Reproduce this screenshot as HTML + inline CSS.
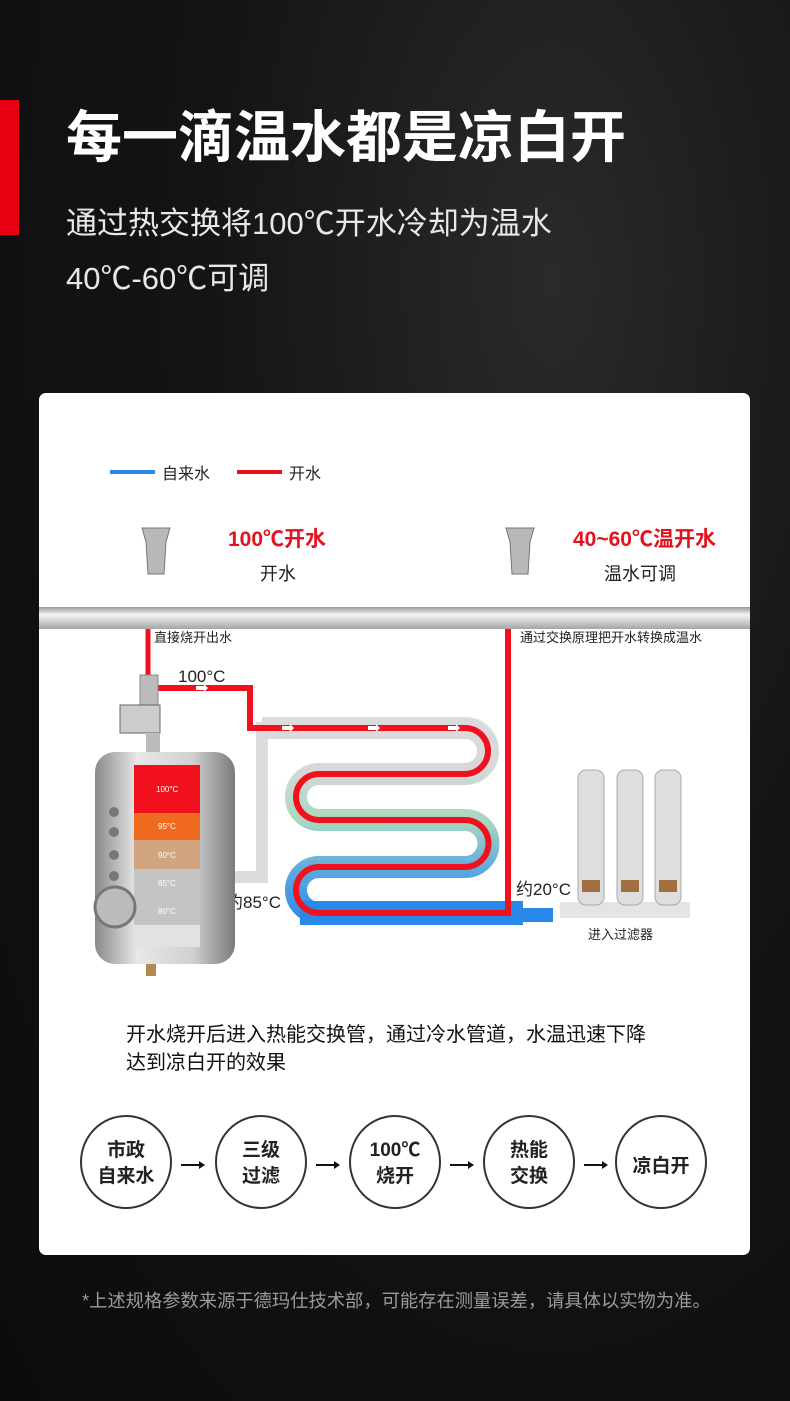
<!DOCTYPE html>
<html><head><meta charset="utf-8"><style>
*{margin:0;padding:0;box-sizing:border-box}
body{width:790px;height:1401px;overflow:hidden;background:radial-gradient(ellipse at 70% 20%,#2a2a2a 0%,#141414 45%,#0c0c0c 100%);font-family:"Liberation Sans","Noto Sans CJK SC",sans-serif;position:relative;color:#fff}
.t{position:absolute;white-space:nowrap}
</style></head><body>
<div style="position:absolute;left:0;top:100px;width:19px;height:135px;background:#e60012"></div>
<div class="t" style="left:66px;top:93px;font-size:56px;font-weight:bold">每一滴温水都是凉白开</div>
<div class="t" style="left:66px;top:198px;font-size:31px;color:#e8e8e8">通过热交换将100℃开水冷却为温水</div>
<div class="t" style="left:66px;top:253px;font-size:31px;color:#e8e8e8">40℃-60℃可调</div>
<div style="position:absolute;left:39px;top:393px;width:711px;height:862px;background:#fff;border-radius:7px"></div>
<svg style="position:absolute;left:0;top:0" width="790" height="1401" font-family="Liberation Sans,Noto Sans CJK SC,sans-serif">
<defs>
<linearGradient id="pipe" x1="0" y1="0" x2="0" y2="1"><stop offset="0" stop-color="#9a9a9a"/><stop offset=".35" stop-color="#f4f4f4"/><stop offset="1" stop-color="#a5a5a5"/></linearGradient>
<linearGradient id="vb" x1="0" y1="0" x2="0" y2="1"><stop offset="0" stop-color="#3a7ae0"/><stop offset=".5" stop-color="#7a4aa0"/><stop offset="1" stop-color="#e8102a"/></linearGradient>
<linearGradient id="tank" x1="0" y1="0" x2="1" y2="0"><stop offset="0" stop-color="#8a8a8a"/><stop offset=".3" stop-color="#e8e8e8"/><stop offset=".7" stop-color="#d0d0d0"/><stop offset="1" stop-color="#7a7a7a"/></linearGradient>
<linearGradient id="serp" gradientUnits="userSpaceOnUse" x1="0" y1="715" x2="0" y2="925"><stop offset="0" stop-color="#dcdcdc"/><stop offset=".25" stop-color="#d8d8d8"/><stop offset=".5" stop-color="#a8d8c0"/><stop offset=".75" stop-color="#5aa8e0"/><stop offset="1" stop-color="#2a88e8"/></linearGradient>
</defs>
<line x1="110" y1="472" x2="155" y2="472" stroke="#2a8ae8" stroke-width="4"/>
<text x="162" y="479" font-size="16" fill="#222">自来水</text>
<line x1="237" y1="472" x2="282" y2="472" stroke="#e8101e" stroke-width="4"/>
<text x="289" y="479" font-size="16" fill="#222">开水</text>
<path d="M142 528 h28 l-4 14 l-2 32 h-16 l-2 -32z" fill="#b8b8b8" stroke="#777"/>
<path d="M506 528 h28 l-4 14 l-2 32 h-16 l-2 -32z" fill="#b8b8b8" stroke="#777"/>
<text x="228" y="546" font-size="21" font-weight="bold" fill="#e8101e">100℃开水</text>
<text x="260" y="580" font-size="18" fill="#222">开水</text>
<text x="573" y="546" font-size="21" font-weight="bold" fill="#e8101e">40~60℃温开水</text>
<text x="604" y="580" font-size="18" fill="#222">温水可调</text>
<rect x="39" y="607" width="711" height="22" fill="url(#pipe)"/>
<path d="M232 877 H262 V728 H300" fill="none" stroke="#dcdcdc" stroke-width="12"/>
<path d="M262 728 H465 A23 23 0 0 1 465 774 H319 A23 23 0 0 0 319 820 H465 A23.5 23.5 0 0 1 465 867 H319 A23 23 0 0 0 319 913 H508" fill="none" stroke="url(#serp)" stroke-width="22"/>
<path d="M300 913 H523" stroke="#2a88e8" stroke-width="24"/>
<path d="M520 915 H553" stroke="#2a88e8" stroke-width="14"/>
<path d="M148 629 V700" stroke="#f0101e" stroke-width="5"/>
<path d="M155 688 H250 V728 H465 A23 23 0 0 1 465 774 H319 A23 23 0 0 0 319 820 H465 A23.5 23.5 0 0 1 465 867 H319 A23 23 0 0 0 319 913 H508 V629" fill="none" stroke="#f0101e" stroke-width="6"/>
<path d="M512 629 V905" stroke="url(#vb)" stroke-width="4"/>
<g fill="#fff"><path d="M196 686 h8 v-2 l4 4 l-4 4 v-2 h-8z"/><path d="M282 726 h8 v-2 l4 4 l-4 4 v-2 h-8z"/><path d="M368 726 h8 v-2 l4 4 l-4 4 v-2 h-8z"/><path d="M448 726 h8 v-2 l4 4 l-4 4 v-2 h-8z"/></g>
<text x="154" y="642" font-size="13" fill="#222">直接烧开出水</text>
<text x="520" y="642" font-size="13" fill="#222">通过交换原理把开水转换成温水</text>
<text x="178" y="682" font-size="17" fill="#222">100°C</text>
<text x="226" y="908" font-size="17" fill="#222">约85°C</text>
<text x="516" y="895" font-size="17" fill="#222">约20°C</text>
<text x="588" y="939" font-size="13" fill="#222">进入过滤器</text>
<rect x="140" y="675" width="18" height="30" fill="#bbb" stroke="#888"/>
<rect x="120" y="705" width="40" height="28" fill="#ccc" stroke="#666"/>
<rect x="146" y="733" width="14" height="20" fill="#bbb"/>
<rect x="208" y="850" width="22" height="38" fill="#ccc" stroke="#666"/>
<rect x="95" y="752" width="140" height="212" rx="20" fill="url(#tank)"/>
<rect x="134" y="765" width="66" height="48" fill="#f0101e"/>
<rect x="134" y="813" width="66" height="27" fill="#f06a20"/>
<rect x="134" y="840" width="66" height="29" fill="#d0a580"/>
<rect x="134" y="869" width="66" height="56" fill="#c4c4c4"/>
<rect x="134" y="925" width="66" height="22" fill="#e2e2e2"/>
<g font-size="8" fill="#fff"><text x="156" y="792">100°C</text><text x="158" y="829">95°C</text><text x="158" y="858">90°C</text><text x="158" y="886">85°C</text><text x="158" y="914">80°C</text></g>
<circle cx="115" cy="907" r="20" fill="#bbb" stroke="#777" stroke-width="3"/>
<g fill="#777"><circle cx="114" cy="812" r="5"/><circle cx="114" cy="832" r="5"/><circle cx="114" cy="855" r="5"/><circle cx="114" cy="876" r="5"/></g>
<rect x="146" y="964" width="10" height="12" fill="#b08a50"/>
<rect x="560" y="902" width="130" height="16" fill="#e4e4e4"/>
<g fill="#dedede" stroke="#aaa"><rect x="578" y="770" width="26" height="135" rx="8"/><rect x="617" y="770" width="26" height="135" rx="8"/><rect x="655" y="770" width="26" height="135" rx="8"/></g>
<g fill="#a07040"><rect x="582" y="880" width="18" height="12"/><rect x="621" y="880" width="18" height="12"/><rect x="659" y="880" width="18" height="12"/></g>
<text x="126" y="1041" font-size="20" fill="#111">开水烧开后进入热能交换管，通过冷水管道，水温迅速下降</text>
<text x="126" y="1069" font-size="20" fill="#111">达到凉白开的效果</text>
<g fill="none" stroke="#333" stroke-width="2"><ellipse cx="126" cy="1162" rx="45" ry="46"/><ellipse cx="261" cy="1162" rx="45" ry="46"/><ellipse cx="395" cy="1162" rx="45" ry="46"/><ellipse cx="529" cy="1162" rx="45" ry="46"/><ellipse cx="661" cy="1162" rx="45" ry="46"/></g>
<g font-size="19" font-weight="bold" fill="#222" text-anchor="middle">
<text x="126" y="1156">市政</text><text x="126" y="1182">自来水</text>
<text x="261" y="1156">三级</text><text x="261" y="1182">过滤</text>
<text x="395" y="1156">100℃</text><text x="395" y="1182">烧开</text>
<text x="529" y="1156">热能</text><text x="529" y="1182">交换</text>
<text x="661" y="1172">凉白开</text></g>
<g stroke="#111" stroke-width="2"><line x1="181" y1="1165" x2="201" y2="1165"/><line x1="316" y1="1165" x2="336" y2="1165"/><line x1="450" y1="1165" x2="470" y2="1165"/><line x1="584" y1="1165" x2="604" y2="1165"/></g>
<g fill="#111"><path d="M205 1165 l-6 -4 v8z"/><path d="M340 1165 l-6 -4 v8z"/><path d="M474 1165 l-6 -4 v8z"/><path d="M608 1165 l-6 -4 v8z"/></g>
</svg>
<div class="t" style="left:82px;top:1287px;font-size:18.3px;color:#9a9a9a">*上述规格参数来源于德玛仕技术部，可能存在测量误差，请具体以实物为准。</div>
</body></html>
